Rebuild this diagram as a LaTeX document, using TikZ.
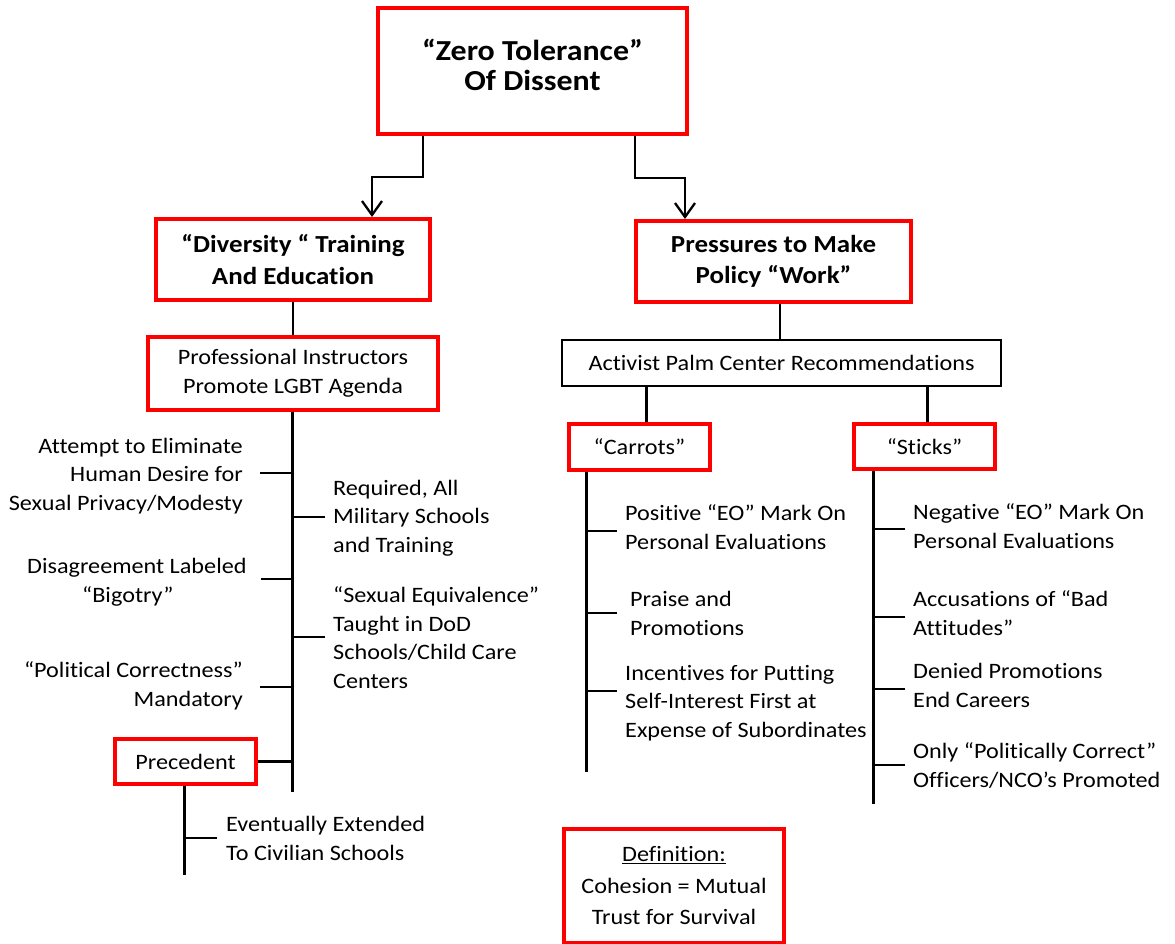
\documentclass[tikz,border=0pt]{standalone}
\usepackage{fontspec}
\setmainfont{Carlito}[FakeStretch=1.1, Ligatures=NoCommon]
\usetikzlibrary{arrows.meta}
\definecolor{boxred}{RGB}{255,0,0}
\tikzset{
  txt/.style={inner sep=0pt, font=\fontsize{22}{28.5}\selectfont},
  redbox/.style={draw=boxred, line width=4pt, inner sep=0pt, align=center, font=\fontsize{22}{28.5}\selectfont},
  headbox/.style={redbox, font=\bfseries\fontsize{24.5}{31.5}\selectfont},
  blackbox/.style={draw=black, line width=2.5pt, inner sep=0pt, align=center, font=\fontsize{22}{28.5}\selectfont},
  conn/.style={line width=2.3pt},
  trunk/.style={line width=3pt},
  tick/.style={line width=2.5pt},
  arr/.style={conn, -{Straight Barb[length=14pt,width=20pt,line width=2.3pt]}},
}
\begin{document}
\begin{tikzpicture}[x=1pt,y=-1pt]
\fill[white] (0,0) rectangle (1175,944);
\useasboundingbox (0,0) rectangle (1175,944);

% boxes
\node[redbox, font=\bfseries\fontsize{29}{30}\selectfont, text depth=13pt, minimum width=309pt, minimum height=126pt] (zt) at (532.5,71) {“Zero Tolerance”\\Of Dissent};
\node[headbox, minimum width=274pt, minimum height=81pt] (div) at (293,259.5) {“Diversity “ Training\\And Education};
\node[headbox, minimum width=275pt, minimum height=81pt] (press) at (773.5,261.5) {Pressures to Make\\Policy “Work”};
\node[redbox, minimum width=290pt, minimum height=73pt] (prof) at (293,373.5) {Professional Instructors\\Promote LGBT Agenda};
\node[blackbox, minimum width=439pt, minimum height=46pt] (act) at (781.5,363) {Activist Palm Center Recommendations};
\node[redbox, minimum width=141pt, minimum height=46pt] (car) at (639.5,447) {“Carrots”};
\node[redbox, minimum width=141pt, minimum height=45pt] (stk) at (924.5,446.5) {“Sticks”};
\node[redbox, minimum width=141pt, minimum height=45pt] (prec) at (185.5,761.5) {Precedent};
\node[redbox, font=\fontsize{22}{31.5}\selectfont, minimum width=220pt, minimum height=114pt] (def) at (674,886) {\underline{Definition:}\\Cohesion = Mutual\\Trust for Survival};

% arrows from top box
\coordinate (zl) at ([xshift=-109.5pt]zt.south);
\coordinate (zr) at ([xshift=102.5pt]zt.south);
\coordinate (dl) at ([xshift=79pt]div.north);
\coordinate (pr) at ([xshift=-88.5pt]press.north);
\draw[arr] (zl) -- ++(0,41) -| (dl);
\draw[arr] (zr) -- ++(0,42) -| (pr);

% left branch
\draw[conn] (div.south) -- (div.south |- prof.north);
\coordinate (lt) at (292,792);
\draw[trunk] (lt |- prof.south) -- (lt);
\coordinate (a1) at (260,473);
\coordinate (a2) at (261,579);
\coordinate (a3) at (260,687);
\coordinate (b1) at (325,517);
\coordinate (b2) at (325,637);
\foreach \c in {a1,a2,a3,b1,b2} \draw[tick] (\c) -- (\c -| lt);
\draw[tick] (prec.east) -- (prec.east -| lt);
\coordinate (pt) at (184,875);
\draw[trunk] (pt |- prec.south) -- (pt);
\coordinate (e1) at (217,838);
\draw[tick] (e1) -- (e1 -| pt);

% right branch
\coordinate (pa) at ([xshift=6.5pt]press.south);
\draw[conn] (pa) -- (pa |- act.north);
\coordinate (ca) at (646,0);
\coordinate (sa) at (927,0);
\draw[trunk] (ca |- act.south) -- (ca |- car.north);
\draw[trunk] (sa |- act.south) -- (sa |- stk.north);
\coordinate (ct) at (586,772);
\draw[trunk] (ct |- car.south) -- (ct);
\coordinate (c1) at (617,531);
\coordinate (c2) at (617,613);
\coordinate (c3) at (617,691);
\foreach \c in {c1,c3} \draw[conn] (\c) -- (\c -| ct);
\draw[tick] (c2) -- (c2 -| ct);
\coordinate (st) at (873,804);
\draw[trunk] (st |- stk.south) -- (st);
\coordinate (s1) at (905,529);
\coordinate (s2) at (905,617);
\coordinate (s3) at (905,689);
\coordinate (s4) at (905,765);
\foreach \c in {s1,s2,s3,s4} \draw[tick] (\c) -- (\c -| st);

% texts (base anchor = baseline of the last line)
\node[txt, anchor=base east, align=right] (l1) at (243,510) {Attempt to Eliminate\\Human Desire for\\Sexual Privacy/Modesty};
\node[txt, anchor=base west, align=left] (l2) at (27,602) {Disagreement Labeled\\\hspace*{55pt}“Bigotry”};
\node[txt, anchor=base east, align=right] (l3) at (243,706) {“Political Correctness”\\Mandatory};
\node[txt, anchor=base west, align=left] (r1) at (333,552) {Required, All\\Military Schools\\and Training};
\node[txt, anchor=base west, align=left] (r2) at (333,688) {“Sexual Equivalence”\\Taught in DoD\\Schools/Child Care\\Centers};
\node[txt, anchor=base west, align=left] (ev) at (226,860) {Eventually Extended\\To Civilian Schools};
\node[txt, anchor=base west, align=left] (cc1) at (625,549) {Positive “EO” Mark On\\Personal Evaluations};
\node[txt, anchor=base west, align=left] (cc2) at (630,635) {Praise and\\Promotions};
\node[txt, anchor=base west, align=left] (cc3) at (625,737) {Incentives for Putting\\Self-Interest First at\\Expense of Subordinates};
\node[txt, anchor=base west, align=left] (ss1) at (913,548) {Negative “EO” Mark On\\Personal Evaluations};
\node[txt, anchor=base west, align=left] (ss2) at (913,635) {Accusations of “Bad\\Attitudes”};
\node[txt, anchor=base west, align=left] (ss3) at (913,707) {Denied Promotions\\End Careers};
\node[txt, anchor=base west, align=left] (ss4) at (913,787) {Only “Politically Correct”\\Officers/NCO’s Promoted};
\end{tikzpicture}
\end{document}
